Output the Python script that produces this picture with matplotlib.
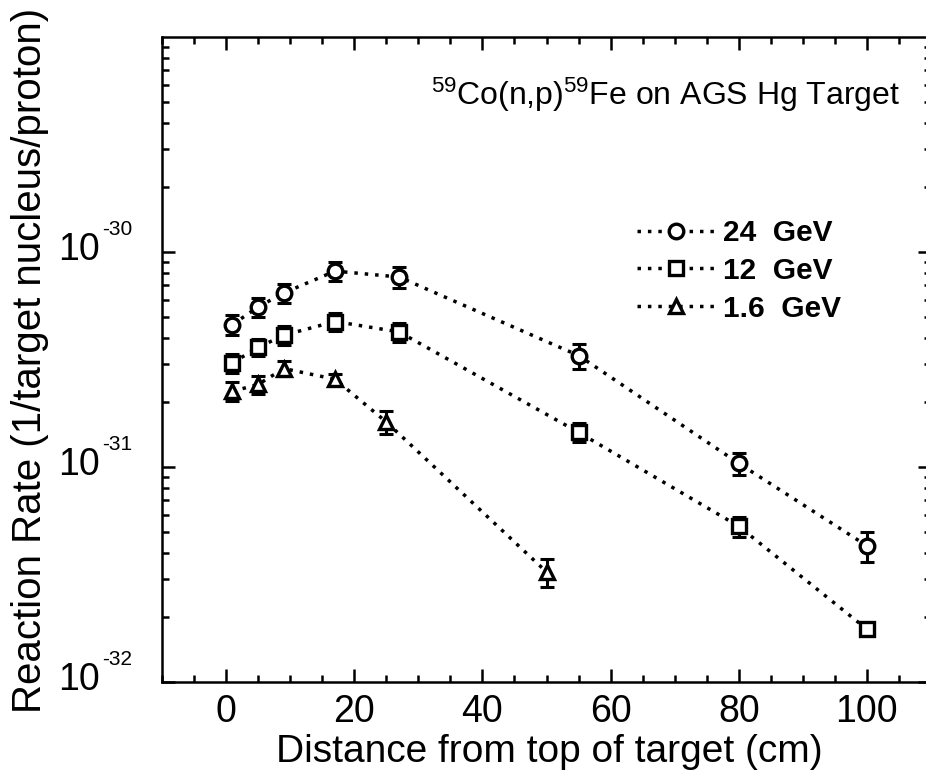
import matplotlib
matplotlib.use("Agg")
import matplotlib.pyplot as plt
import numpy as np
from matplotlib.ticker import FixedLocator, MultipleLocator, LogLocator, NullFormatter

plt.rcParams['font.family'] = ['Liberation Sans', 'DejaVu Sans']
plt.rcParams['mathtext.fontset'] = 'custom'
plt.rcParams['mathtext.rm'] = 'Liberation Sans'
plt.rcParams['mathtext.it'] = 'Liberation Sans:italic'
plt.rcParams['mathtext.bf'] = 'Liberation Sans:bold'

# ---- data ----
x_24 = [1, 5, 9, 17, 27, 55, 80, 100]
y_24 = [4.6e-31, 5.55e-31, 6.45e-31, 8.15e-31, 7.65e-31, 3.3e-31, 1.04e-31, 4.3e-32]
e_24 = [0.11, 0.10, 0.10, 0.10, 0.11, 0.13, 0.12, 0.16]

x_12 = [1, 5, 9, 17, 27, 55, 80, 100]
y_12 = [3.05e-31, 3.6e-31, 4.1e-31, 4.75e-31, 4.25e-31, 1.45e-31, 5.3e-32, 1.76e-32]
e_12 = [0.10, 0.09, 0.10, 0.10, 0.10, 0.10, 0.11, 0.0]

x_16 = [1, 5, 9, 17, 25, 50]
y_16 = [2.25e-31, 2.42e-31, 2.87e-31, 2.56e-31, 1.62e-31, 3.25e-32]
e_16 = [0.10, 0.10, 0.08, 0.06, 0.12, 0.15]

labels = ['24  GeV', '12  GeV', '1.6  GeV']
markers = ['o', 's', '^']

xtick_vals = [0, 20, 40, 60, 80, 100]
ytick_vals = [1e-32, 1e-31, 1e-30]
ytick_exps = ['-32', '-31', '-30']

W, H = 926, 773
PX = 72 / 100  # points per pixel
fig = plt.figure(figsize=(W / 100, H / 100), dpi=100)
ax = fig.add_axes([162 / W, 1 - 682 / H, (931 - 162) / W, (682 - 37) / H])

series = [(x_24, y_24, e_24), (x_12, y_12, e_12), (x_16, y_16, e_16)]
handles = []
for (xs, ys, es), lab, mk in zip(series, labels, markers):
    xs = np.array(xs, float)
    ys = np.array(ys, float)
    err = ys * np.array(es)
    ax.errorbar(xs, ys, yerr=err, fmt='none', ecolor='black', elinewidth=2.2,
                capsize=4.8, capthick=2.2, zorder=2)
    ms = {'o': 10.5, 's': 10, '^': 10.5}[mk]
    h, = ax.plot(xs, ys, color='black', linestyle=(0, (1, 2.0)), linewidth=2.5,
                 marker=mk, markersize=ms, markerfacecolor='white',
                 markeredgecolor='black', markeredgewidth=2.4, zorder=3, label=lab)
    handles.append(h)

ax.set_yscale('log')
ax.set_xlim(-10, 110)
ax.set_ylim(1e-32, 1e-29)

ax.xaxis.set_major_locator(FixedLocator(xtick_vals))
ax.xaxis.set_minor_locator(MultipleLocator(5))
ax.yaxis.set_major_locator(FixedLocator(ytick_vals))
ax.yaxis.set_major_formatter(NullFormatter())
ax.yaxis.set_minor_locator(LogLocator(base=10, subs=np.arange(2, 10)))
ax.yaxis.set_minor_formatter(NullFormatter())

ax.tick_params(which='both', direction='in', top=True, right=True, width=1.8)
ax.tick_params(which='major', length=9.5)
ax.tick_params(which='minor', length=5)
ax.tick_params(axis='x', which='major', labelsize=27, pad=9)
for s in ax.spines.values():
    s.set_linewidth(1.8)

# y tick labels: "10" with small raised exponent
for v, ex in zip(ytick_vals, ytick_exps):
    ax.annotate('10', xy=(0, v), xycoords=('axes fraction', 'data'),
                xytext=(-62 * PX, -8 * PX), textcoords='offset points',
                ha='right', va='baseline', fontsize=27)
    ax.annotate(ex, xy=(0, v), xycoords=('axes fraction', 'data'),
                xytext=(-60 * PX, 17 * PX), textcoords='offset points',
                ha='left', va='baseline', fontsize=15)

fig.text(549 / W, 1 - 752 / H, 'Distance from top of target (cm)', fontsize=28,
         ha='center', va='center')
fig.text(30 / W, 1 - 360 / H, 'Reaction Rate (1/target nucleus/proton)', fontsize=29,
         ha='center', va='center', rotation=90)

ax.text((900 - 162) / 769, 1 - (105 - 37) / 645,
        r'$^{59}$Co(n,p)$^{59}$Fe on AGS Hg Target', transform=ax.transAxes,
        fontsize=23, ha='right', va='baseline')

leg = fig.legend(handles=handles, labels=labels, loc='upper left',
                 bbox_to_anchor=(637 / W, 1 - 219 / H), frameon=False,
                 prop={'weight': 'bold', 'size': 21.5}, handlelength=2.6,
                 handletextpad=0.28, labelspacing=0.33, borderpad=0,
                 borderaxespad=0, markerscale=1.0)

fig.savefig('out.png', dpi=100)
